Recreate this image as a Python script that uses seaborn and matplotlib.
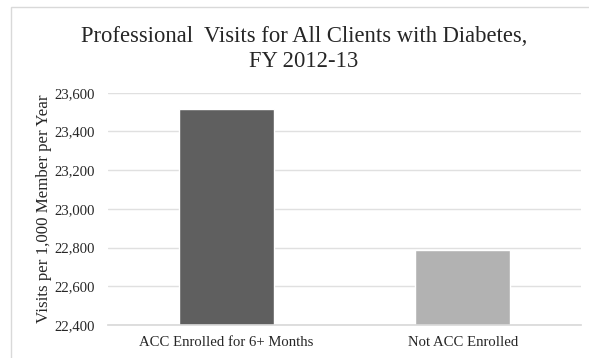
import matplotlib
matplotlib.use("Agg")
import matplotlib.pyplot as plt
import seaborn as sns
import pandas as pd
from matplotlib.patches import Rectangle
from matplotlib.ticker import FuncFormatter

categories = ["ACC Enrolled for 6+ Months", "Not ACC Enrolled"]
values = [23515, 22790]
colors = ["#5f5f5f", "#b2b2b2"]
title = "Professional  Visits for All Clients with Diabetes,\nFY 2012-13"
ylabel = "Visits per 1,000 Member per Year"

sns.set_theme(style="white")
plt.rcParams["font.family"] = ["Liberation Serif", "DejaVu Serif"]

df = pd.DataFrame({"cat": categories, "val": values})

fig = plt.figure(figsize=(5.89, 3.58), dpi=100)
ax = fig.add_axes([108/589, 1 - 325/358, (581-108)/589, (325-92.7)/358])

sns.barplot(data=df, x="cat", y="val", hue="cat", palette=colors, width=0.4,
            legend=False, ax=ax, saturation=1)

ax.set_ylim(22400, 23600)
ax.set_yticks(range(22400, 23601, 200))
ax.yaxis.set_major_formatter(FuncFormatter(lambda v, p: f"{int(v):,}"))
ax.grid(axis="y", color="#e0e0e0", linewidth=1)
ax.set_axisbelow(True)
for s in ["top", "right", "left"]:
    ax.spines[s].set_visible(False)
ax.spines["bottom"].set_color("#d9d9d9")
ax.tick_params(axis="both", length=0, colors="#262626")
ax.tick_params(axis="y", pad=9.6, labelsize=10.6)
ax.tick_params(axis="x", pad=8, labelsize=10.6)
ax.set_xlabel("")
ax.set_ylabel(ylabel, fontsize=12.2, color="#262626", labelpad=1.5)

fig.text(304/589, 1 - 49/358, title, ha="center", va="center",
         fontsize=16.3, color="#262626", linespacing=1.22)

fig.patches.append(Rectangle((11/589, -0.1), 1.2, 1 - 7/358 + 0.1, transform=fig.transFigure,
                             fill=False, edgecolor="#d9d9d9", linewidth=1))

fig.savefig("out.png", dpi=100)
